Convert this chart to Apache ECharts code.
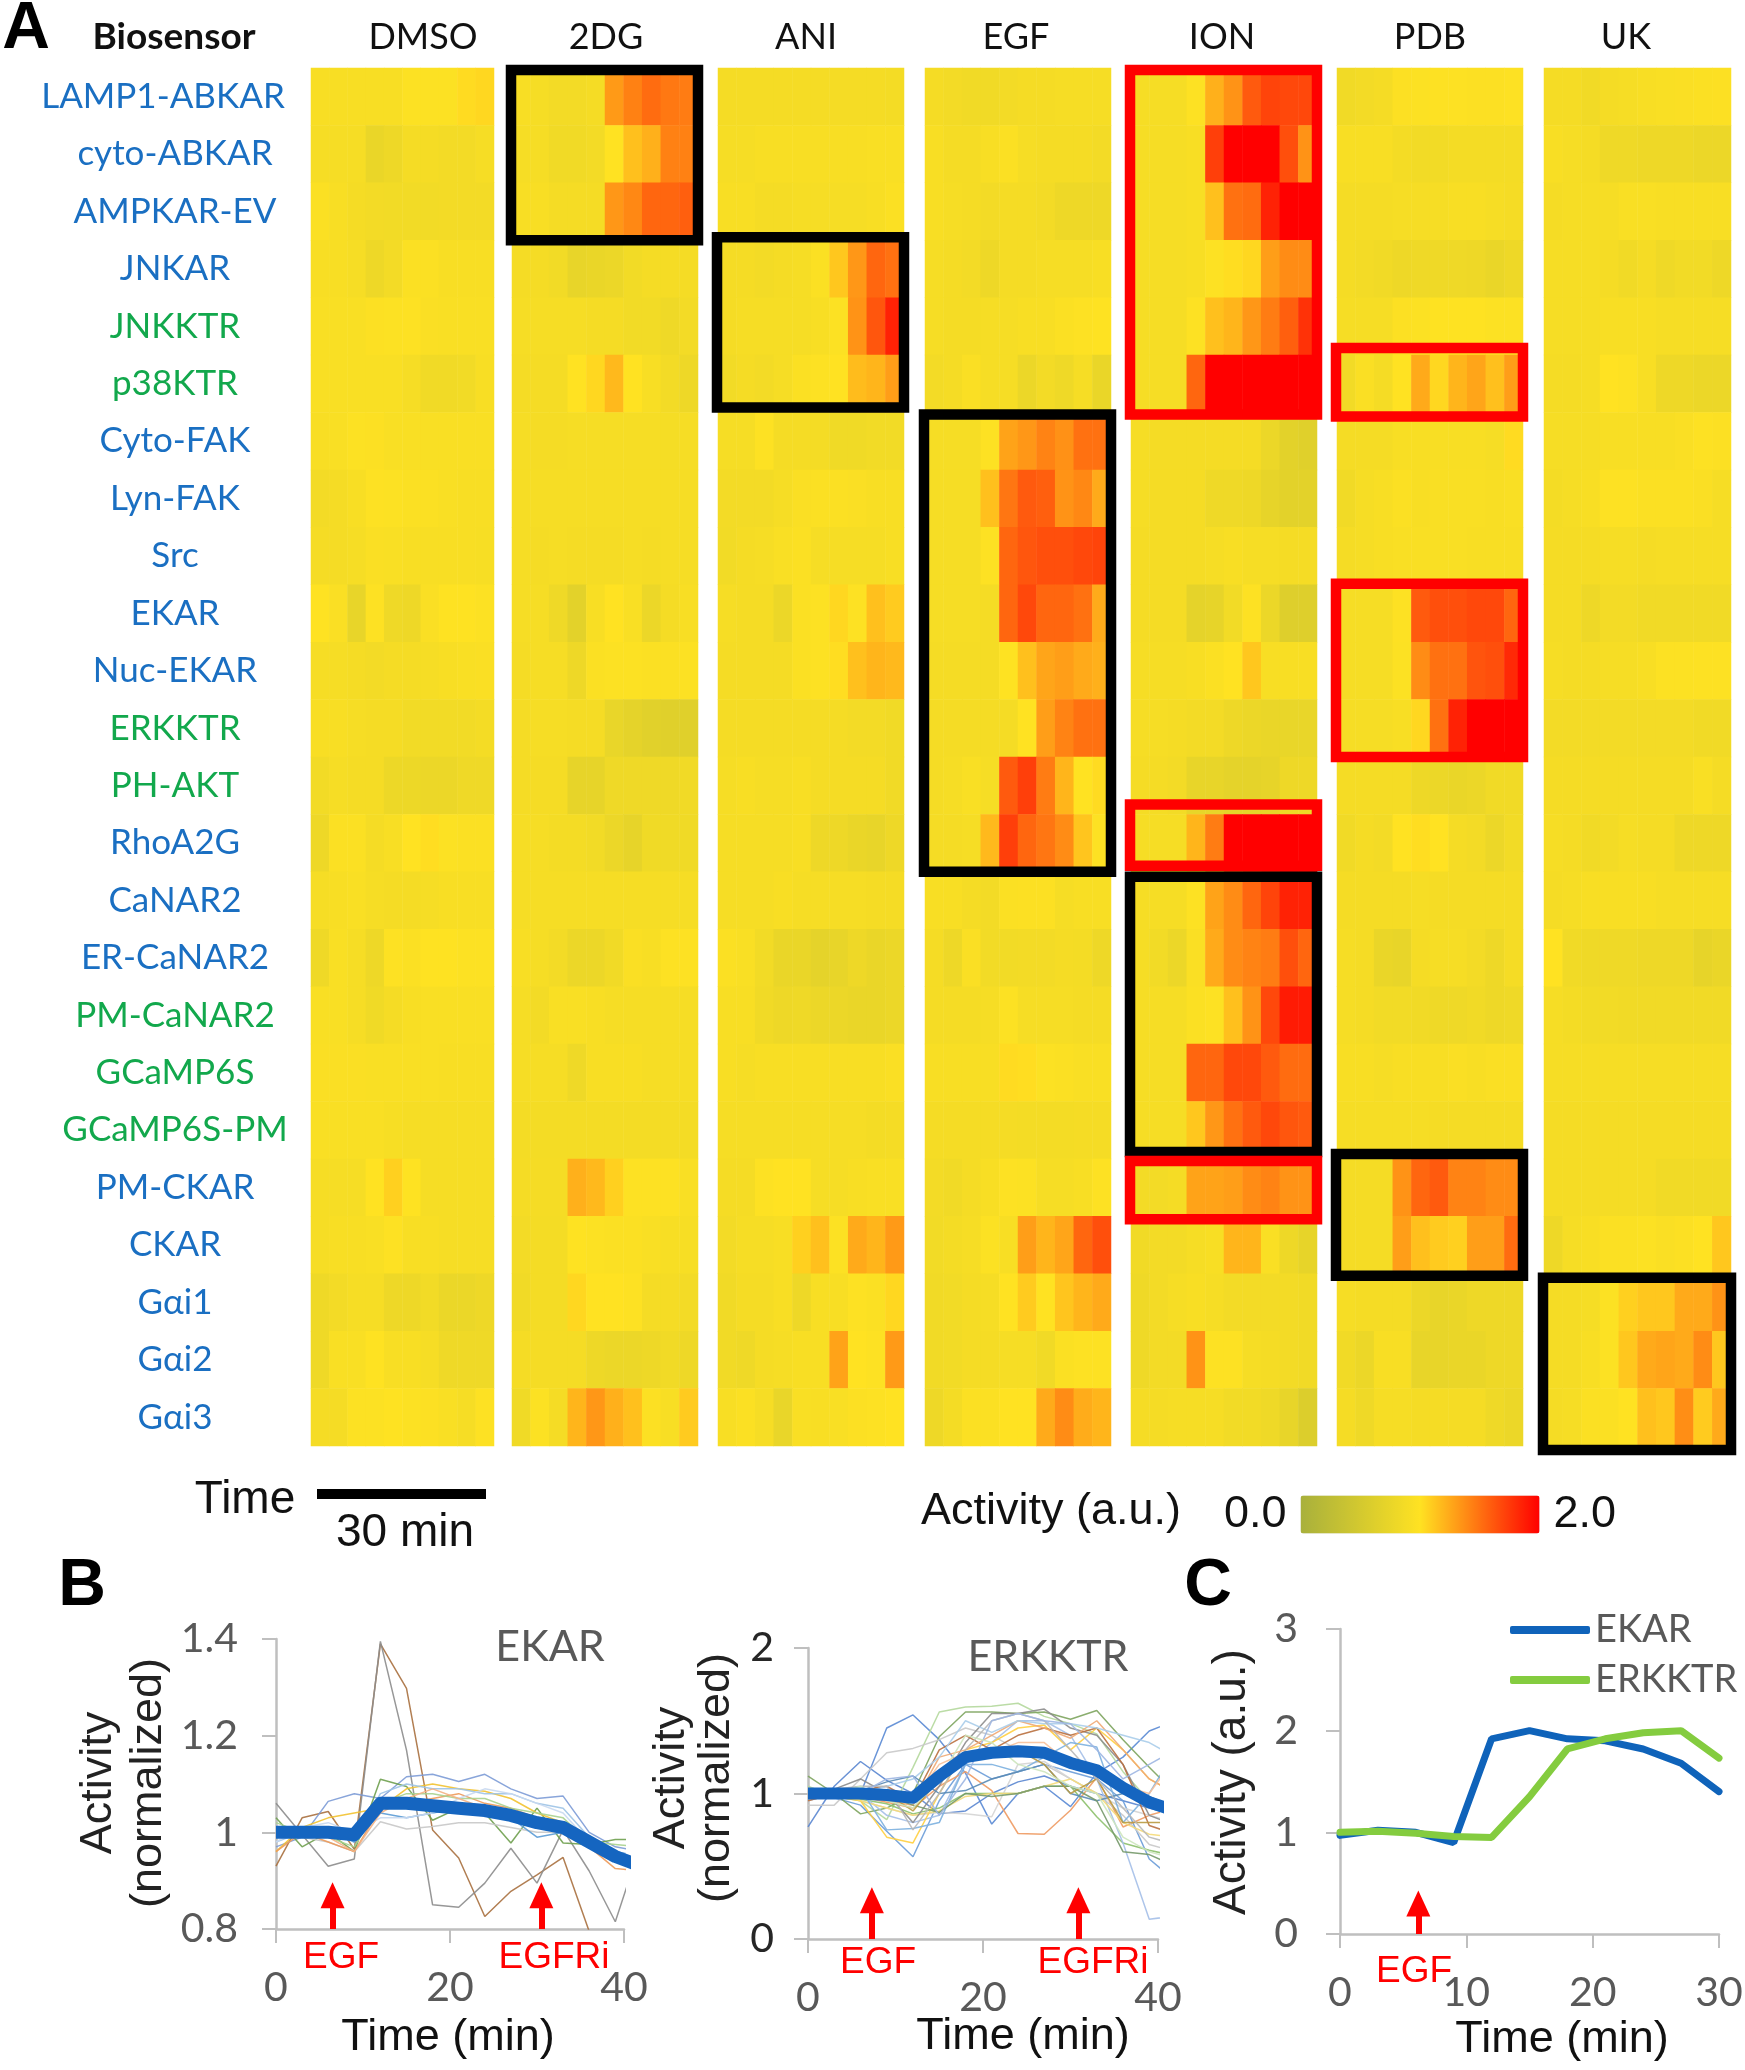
<!DOCTYPE html>
<html>
<head>
<meta charset="utf-8">
<title>Biosensor activity</title>
<script src="https://cdn.jsdelivr.net/npm/echarts@6/dist/echarts.min.js"></script>
<style>
  html, body { margin: 0; padding: 0; background: #fff; }
  #main { width: 1745px; height: 2070px; }
</style>
</head>
<body>
<div id="main"></div>
<script>
const biosensors = ['LAMP1-ABKAR', 'cyto-ABKAR', 'AMPKAR-EV', 'JNKAR', 'JNKKTR', 'p38KTR', 'Cyto-FAK', 'Lyn-FAK', 'Src', 'EKAR', 'Nuc-EKAR', 'ERKKTR', 'PH-AKT', 'RhoA2G', 'CaNAR2', 'ER-CaNAR2', 'PM-CaNAR2', 'GCaMP6S', 'GCaMP6S-PM', 'PM-CKAR', 'CKAR', 'Gαi1', 'Gαi2', 'Gαi3']
const greenSensors = ['JNKKTR', 'p38KTR', 'ERKKTR', 'PH-AKT', 'PM-CaNAR2', 'GCaMP6S', 'GCaMP6S-PM']
const timeBins = ['0', '1', '2', '3', '4', '5', '6', '7', '8', '9']
const treatments = ['DMSO', '2DG', 'ANI', 'EGF', 'ION', 'PDB', 'UK']

const dmso = [
  [.92, .92, .92, .92, .92, .97, .97, .97, 1.03, 1.05],
  [.9, .9, .9, .76, .8, .88, .88, .86, .86, .9],
  [.95, .92, .88, .86, .85, .85, .85, .86, .86, .86],
  [.92, .92, .9, .8, .86, .95, .95, .92, .92, .92],
  [.93, .93, .93, .96, .97, .98, .94, .93, .93, .93],
  [.93, .93, .93, .93, .93, .9, .84, .84, .85, .92],
  [.92, .93, .97, .96, .93, .93, .93, .93, .93, .93],
  [.86, .88, .92, .98, .97, .95, .95, .93, .92, .92],
  [.88, .88, .9, .94, .93, .92, .92, .92, .92, .91],
  [.99, .94, .74, .98, .82, .8, .94, .99, .99, .97],
  [.9, .9, .88, .86, .88, .88, .9, .92, .93, .94],
  [.92, .92, .9, .88, .88, .85, .85, .85, .85, .87],
  [.85, .9, .88, .88, .79, .79, .78, .78, .82, .82],
  [.8, .95, .95, .88, .92, 1.0, 1.02, .97, .95, .95],
  [.9, .92, .93, .9, .88, .88, .9, .92, .92, .92],
  [.82, .93, .9, .8, .98, .95, .99, .99, .97, .97],
  [.93, .93, .9, .83, .88, .92, .93, .93, .93, .93],
  [.94, .94, .94, .93, .93, .93, .93, .92, .92, .92],
  [.93, .93, .93, .93, .91, .9, .9, .9, .9, .9],
  [.9, .9, .9, 1.0, 1.08, .99, .9, .9, .9, .9],
  [.9, .92, .92, .93, .98, .92, .92, .9, .9, .9],
  [.82, .86, .9, .9, .8, .8, .85, .77, .77, .8],
  [.82, .93, .93, .99, .92, .92, .9, .82, .82, .82],
  [.88, .88, .97, .97, .99, .97, .96, .93, .9, .98]
]
const twoDg = [
  [.92, .9, .86, .86, .88, 1.32, 1.43, 1.52, 1.47, 1.45],
  [.9, .9, .84, .84, .86, 1.0, 1.15, 1.22, 1.43, 1.43],
  [.92, .92, .88, .88, .88, 1.33, 1.4, 1.55, 1.55, 1.58],
  [.88, .88, .85, .74, .76, .78, .85, .88, .88, .88],
  [.9, .9, .9, .9, .88, .88, .85, .85, .82, .86],
  [.88, .88, .88, 1.0, 1.05, 1.18, 1.0, .92, .86, .8],
  [.9, .88, .88, .9, .9, .9, .9, .9, .89, .9],
  [.9, .9, .9, .9, .9, .9, .9, .9, .9, .9],
  [.9, .88, .9, .88, .88, .88, .9, .88, .9, .9],
  [.9, .9, .82, .68, .92, 1.0, .93, .78, .88, .92],
  [.88, .9, .9, .8, .95, .97, .97, .95, .95, .97],
  [.88, .9, .9, .88, .88, .75, .7, .66, .64, .64],
  [.88, .88, .88, .72, .72, .82, .82, .82, .82, .84],
  [.9, .9, .87, .87, .85, .78, .72, .83, .83, .83],
  [.9, .9, .9, .9, .9, .9, .9, .9, .9, .9],
  [.92, .9, .86, .78, .78, .84, .94, .92, .98, .98],
  [.9, .86, .93, .93, .92, .9, .9, .9, .9, .9],
  [.9, .9, .9, .82, .92, .92, .92, .9, .9, .9],
  [.87, .87, .87, .87, .87, .87, .87, .87, .87, .87],
  [.88, .88, .88, 1.22, 1.18, 1.08, .98, .98, .98, .93],
  [.86, .87, .87, .99, .97, .95, .95, .93, .91, .91],
  [.84, .87, .87, 1.05, 1.0, 1.0, .98, .88, .88, .86],
  [.88, .88, .88, .88, .8, .78, .78, .8, .84, .8],
  [.83, .97, .88, 1.2, 1.33, 1.22, 1.15, .96, .92, 1.1]
]
const ani = [
  [.88, .88, .88, .88, .88, .88, .88, .88, .88, .87],
  [.9, .9, .92, .92, .92, .92, .92, .92, .93, .93],
  [.92, .92, .88, .88, .9, .9, .9, .9, .92, .95],
  [.88, .88, .86, .88, .9, .95, 1.12, 1.33, 1.55, 1.5],
  [.88, .9, .9, .9, .9, .92, .97, 1.35, 1.62, 1.85],
  [.85, .88, .86, .9, .95, .98, 1.0, 1.17, 1.2, 1.3],
  [.9, .9, .98, .88, .88, .87, .83, .83, .85, .85],
  [.86, .86, .86, .9, .94, .95, .95, .94, .92, .92],
  [.85, .88, .9, .93, .95, .9, .9, .9, .9, .92],
  [.9, .88, .88, .78, .95, .98, 1.05, .98, 1.15, 1.1],
  [.88, .88, .88, .88, .95, .98, 1.02, 1.15, 1.2, 1.18],
  [.88, .88, .88, .88, .88, .88, .88, .86, .86, .84],
  [.9, .92, .9, .9, .92, .88, .88, .88, .88, .84],
  [.9, .9, .9, .9, .92, .8, .8, .76, .74, .8],
  [.9, .9, .9, .92, .9, .9, .9, .9, .88, .88],
  [.95, .93, .85, .76, .76, .7, .74, .8, .76, .78],
  [.92, .92, .84, .8, .82, .78, .78, .76, .76, .78],
  [.92, .9, .92, .92, .92, .92, .92, .92, .92, .94],
  [.9, .9, .9, .9, .9, .9, .9, .9, .87, .88],
  [.88, .88, .98, 1.0, 1.0, .9, .9, .92, .93, .93],
  [.86, .9, .9, .92, 1.08, 1.15, .97, 1.25, 1.2, 1.32],
  [.84, .88, .88, .92, .8, .92, .92, .98, .95, 1.05],
  [.84, .82, .88, .9, .92, .92, 1.28, 1.0, .98, 1.32],
  [.92, .95, .9, .75, .93, .92, .93, .96, .98, 1.0]
]
const egf = [
  [.88, .86, .84, .84, .86, .88, .88, .9, .9, .9],
  [.92, .88, .88, .92, .95, .9, .88, .88, .88, .86],
  [.92, .9, .88, .86, .88, .88, .86, .8, .8, .8],
  [.9, .88, .86, .8, .88, .88, .9, .9, .9, .92],
  [.9, .88, .88, .9, .9, .92, .92, .95, .98, .99],
  [.86, .88, .94, .9, .9, .78, .86, .82, .9, .76],
  [.9, .9, .9, .98, 1.28, 1.33, 1.42, 1.36, 1.5, 1.5],
  [.9, .9, .9, 1.15, 1.48, 1.6, 1.58, 1.35, 1.4, 1.25],
  [.9, .9, .9, .98, 1.55, 1.62, 1.65, 1.65, 1.68, 1.7],
  [.9, .9, .9, .88, 1.55, 1.68, 1.55, 1.55, 1.5, 1.25],
  [.88, .88, .88, .88, .99, 1.15, 1.27, 1.3, 1.25, 1.22],
  [.88, .88, .88, .88, .88, 1.0, 1.3, 1.42, 1.5, 1.5],
  [.88, .9, .93, .9, 1.6, 1.72, 1.45, 1.2, 1.0, 1.03],
  [.88, .88, .9, 1.18, 1.72, 1.55, 1.48, 1.38, 1.13, .98],
  [.92, .92, .88, .86, .95, .96, .96, .9, .92, .92],
  [.88, .8, .94, .85, .85, .86, .86, .88, .87, .8],
  [.88, .88, .88, .9, .97, .9, .9, .9, .88, .88],
  [.92, .92, .92, .92, 1.03, 1.02, .97, .95, .93, .93],
  [.88, .88, .88, .88, .88, .87, .87, .87, .88, .88],
  [.86, .84, .88, .92, .98, .97, .9, .9, .92, .98],
  [.85, .87, .9, .97, .92, 1.3, 1.2, 1.27, 1.55, 1.65],
  [.84, .85, .88, .9, 1.0, 1.1, 1.0, 1.13, 1.2, 1.25],
  [.84, .85, .88, .88, .9, .9, .84, .95, .98, .98],
  [.8, .87, .95, .95, 1.0, 1.0, 1.25, 1.38, 1.24, 1.2]
]
const ion = [
  [.9, .9, .9, .98, 1.22, 1.35, 1.6, 1.7, 1.68, 1.68],
  [.9, .9, .9, .92, 1.72, 2, 2, 2, 1.65, 1.35],
  [.9, .9, .9, .92, 1.15, 1.5, 1.52, 1.85, 2, 2],
  [.9, .9, .9, .92, .98, 1.02, 1.05, 1.3, 1.38, 1.38],
  [.9, .9, .9, .98, 1.15, 1.2, 1.33, 1.45, 1.58, 1.78],
  [.9, .9, .9, 1.55, 2, 2, 2, 2, 2, 2],
  [.9, .88, .88, .88, .88, .88, .88, .78, .68, .64],
  [.9, .88, .88, .88, .82, .82, .8, .72, .68, .68],
  [.88, .88, .88, .88, .9, .92, .9, .9, .88, .88],
  [.88, .88, .88, .7, .72, .85, .98, .78, .62, .62],
  [.9, .9, .9, .92, .95, 1.0, 1.12, .92, .92, .92],
  [.9, .9, .88, .86, .86, .8, .78, .76, .75, .75],
  [.88, .88, .86, .74, .74, .7, .7, .72, .8, .8],
  [.9, .9, .9, 1.2, 1.45, 2, 2, 2, 2, 2],
  [.9, .9, .9, .98, 1.28, 1.38, 1.55, 1.7, 1.85, 1.85],
  [.9, .85, .78, .94, 1.25, 1.38, 1.42, 1.45, 1.65, 1.55],
  [.9, .9, .9, .95, .98, 1.15, 1.35, 1.68, 1.88, 1.88],
  [.9, .9, .9, 1.55, 1.55, 1.68, 1.68, 1.6, 1.52, 1.52],
  [.9, .9, .9, 1.12, 1.33, 1.5, 1.6, 1.68, 1.62, 1.6],
  [.86, .86, .88, 1.28, 1.28, 1.3, 1.38, 1.42, 1.35, 1.35],
  [.84, .86, .86, .9, .92, 1.2, 1.2, .94, .8, .72],
  [.82, .86, .9, .92, .9, .86, .86, .86, .86, .84],
  [.82, .86, .86, 1.35, .98, .98, .9, .88, .86, .84],
  [.88, .88, .9, .9, .9, .85, .85, .82, .74, .6]
]
const pdb = [
  [.84, .86, .88, .96, .97, .98, .98, .96, .96, .98],
  [.92, .92, .92, .87, .85, .85, .87, .87, .87, .87],
  [.88, .88, .88, .9, .9, .9, .92, .92, .9, .88],
  [.88, .86, .84, .8, .82, .82, .82, .8, .76, .8],
  [.9, .9, .9, .96, .97, .99, .99, .99, .97, .97],
  [.85, .94, .88, 1.0, 1.25, 1.05, 1.2, 1.27, 1.15, 1.3],
  [.88, .88, .88, .92, .92, .92, .92, .92, .9, 1.03],
  [.84, .9, .92, .95, .92, .93, .93, .93, .92, .93],
  [.88, .9, .92, .93, .93, .93, .93, .92, .92, .92],
  [.9, .9, .9, .98, 1.6, 1.65, 1.65, 1.68, 1.68, 1.55],
  [.9, .9, .9, .97, 1.38, 1.5, 1.5, 1.63, 1.65, 1.82],
  [.9, .9, .9, .92, 1.05, 1.5, 1.85, 2, 2, 2],
  [.88, .88, .88, .88, .8, .78, .76, .78, .84, .84],
  [.84, .88, .86, 1.0, 1.02, 1.0, .88, .86, .78, .85],
  [.88, .88, .88, .88, .9, .88, .88, .88, .88, .88],
  [.9, .88, .76, .74, .88, .9, .9, .86, .8, .88],
  [.9, .88, .85, .85, .84, .82, .82, .84, .8, .82],
  [.92, .92, .9, .92, .92, .92, .94, .92, .94, .94],
  [.9, .9, .9, .9, .9, .88, .88, .88, .88, .88],
  [.88, .88, .88, 1.35, 1.55, 1.6, 1.42, 1.42, 1.38, 1.38],
  [.88, .88, .88, 1.3, 1.15, 1.1, 1.08, 1.3, 1.3, 1.52],
  [.9, .88, .88, .88, .78, .74, .76, .8, .8, .8],
  [.84, .78, .92, .92, .74, .74, .76, .76, .8, .8],
  [.88, .82, .9, .9, .88, .88, .88, .88, .82, .78]
]
const uk = [
  [.88, .88, .84, .88, .9, .92, .93, .94, .95, .96],
  [.92, .9, .88, .82, .82, .8, .8, .8, .78, .78],
  [.88, .9, .9, .9, .93, .93, .92, .92, .92, .92],
  [.9, .9, .9, .88, .84, .88, .82, .85, .85, .8],
  [.9, .9, .9, .92, .92, .92, .9, .9, .9, .9],
  [.88, .88, .9, 1.0, .98, .92, .8, .8, .78, .78],
  [.9, .9, .9, .92, .92, .92, .92, .94, .98, .96],
  [.87, .9, .92, .98, .98, .95, .95, .95, .94, .9],
  [.88, .88, .88, .9, .9, .88, .9, .9, .9, .9],
  [.88, .88, .8, .86, .86, .84, .84, .84, .84, .84],
  [.9, .88, .88, .9, .9, .92, .97, .97, .98, .98],
  [.86, .86, .86, .86, .86, .86, .86, .86, .84, .84],
  [.88, .88, .88, .88, .88, .88, .88, .88, .93, .88],
  [.9, .88, .84, .86, .9, .88, .88, .8, .8, .8],
  [.88, .9, .92, .92, .92, .92, .9, .9, .9, .9],
  [1.0, .84, .82, .82, .82, .8, .8, .8, .72, .76],
  [.9, .87, .85, .85, .84, .84, .84, .84, .84, .84],
  [.9, .9, .9, .9, .9, .9, .9, .9, .9, .9],
  [.88, .88, .88, .88, .88, .88, .88, .88, .88, .88],
  [.88, .88, .88, .88, .88, .88, .84, .84, .84, .84],
  [.8, .9, .92, .95, .95, .97, .94, .96, 1.0, 1.12],
  [.88, .88, .9, .97, 1.08, 1.12, 1.12, 1.25, 1.25, 1.35],
  [.88, .88, .92, .97, 1.12, 1.25, 1.27, 1.25, 1.38, 1.12],
  [.88, .9, .95, .95, 1.0, 1.15, 1.12, 1.37, 1.1, 1.25]
]
const heatValues = [dmso, twoDg, ani, egf, ion, pdb, uk]

// treatment index, first row, last row, colour group
const hitBoxes = [
  [1, 0, 2, 'black'],
  [2, 3, 5, 'black'],
  [4, 0, 5, 'red'],
  [5, 5, 5, 'red'],
  [3, 6, 13, 'black'],
  [4, 13, 13, 'red'],
  [4, 14, 18, 'black'],
  [4, 19, 19, 'red'],
  [5, 9, 11, 'red'],
  [5, 19, 20, 'black'],
  [6, 21, 23, 'black']
]

const traceTimes = [0, 3, 6, 9, 12, 15, 18, 21, 24, 27, 30, 33, 36, 39, 42]
const ekarMean = [1.0, 1.0, 1.0, .995, 1.06, 1.06, 1.055, 1.05, 1.045, 1.035, 1.02, 1.01, .98, .95, .93]
const ekarTraces = [
  [.93, 1.03, 1.043, .965, 1.39, 1.298, 1.005, .947, .826, .878, .912, .948, .795, .7, .65],
  [1.06, .995, .93, .945, 1.395, 1.17, .85, .845, .895, .967, .895, 1.005, .92, .815, .98],
  [.97, .99, 1.064, 1.08, 1.07, 1.115, 1.12, 1.105, 1.12, 1.09, 1.07, 1.075, 1.0, .97, .96],
  [1.03, .97, 1.0, .96, 1.11, 1.095, 1.025, 1.05, 1.04, .978, 1.05, .978, .975, .985, .985],
  [1.0, .99, .98, .96, 1.022, 1.007, 1.012, 1.02, 1.02, 1.01, 1.0, 1.0, .97, .95, .94],
  [.96, 1.01, 1.03, 1.04, 1.05, 1.09, 1.1, 1.09, 1.085, 1.07, 1.04, 1.02, .98, .95, .94],
  [.96, 1.0, .98, .96, 1.05, 1.06, 1.07, 1.08, 1.06, 1.05, 1.03, 1.01, .97, .925, .92],
  [.98, 1.0, 1.0, .98, 1.08, 1.1, 1.09, 1.09, 1.08, 1.08, 1.06, 1.05, .99, .96, .95],
  [1.02, 1.0, .99, .97, 1.06, 1.08, 1.08, 1.07, 1.07, 1.05, 1.04, 1.03, .98, .975, .97],
  [.99, 1.0, 1.01, .98, 1.04, 1.03, 1.04, 1.05, 1.04, 1.03, .99, 1.0, .98, .96, .95],
  [.98, 1.01, 1.02, 1.0, 1.03, 1.03, 1.04, 1.07, 1.09, 1.08, 1.06, 1.04, .98, .96, .95],
  [1.0, 1.0, .99, .96, 1.04, 1.07, 1.09, 1.07, 1.05, 1.04, 1.03, 1.02, .97, .94, .93]
]
const ekarColors = ['#a8703f', '#8c8c8c', '#7c9bd6', '#6fa04f', '#c8c8c8', '#f2c230', '#ed9a5a', '#9dc3e6', '#a9d18e', '#5b9bd5', '#c8d8ef', '#f4b183']

const erkMean = [1.0, 1.0, 1.0, .99, .97, 1.12, 1.25, 1.28, 1.29, 1.28, 1.21, 1.16, 1.04, .94, .88]
const erkTraces = [
  [.77, 1.05, 1.22, 1.09, 1.0, .86, .88, 1.0, 1.08, 1.12, 1.05, 1.0, .95, .9, .85],
  [1.0, .98, 1.0, 1.45, 1.54, 1.37, 1.14, .79, 1.0, 1.05, .91, 1.14, 1.25, 1.43, 1.5],
  [1.0, .97, .92, .74, .565, .95, 1.2, 1.1, 1.15, 1.2, 1.15, 1.1, .95, .55, .4],
  [.98, 1.0, .98, .94, .9, 1.05, 1.15, 1.02, .725, .72, .885, 1.11, .77, .85, .9],
  [1.05, .98, .95, .82, 1.18, 1.56, 1.595, 1.6, 1.62, 1.53, 1.48, 1.41, 1.15, .95, .85],
  [1.12, 1.0, .86, .9, 1.0, 1.39, 1.56, 1.56, 1.55, 1.56, 1.51, 1.57, 1.37, 1.18, 1.0],
  [1.0, 1.0, .96, .93, .86, .9, 1.0, 1.0, 1.0, 1.05, 1.05, .84, .66, .61, .57],
  [.95, 1.0, 1.0, .85, .8, .85, 1.2, 1.35, 1.5, 1.5, 1.4, 1.1, .66, .135, .16],
  [.92, .92, 1.1, 1.28, 1.31, 1.37, 1.45, 1.4, 1.3, 1.2, 1.1, 1.0, .85, .65, .6],
  [.95, 1.0, .95, .9, .85, .87, .86, .84, 1.2, 1.22, 1.1, 1.0, .9, .85, .8],
  [1.0, .98, .95, .7, .66, 1.0, 1.3, 1.35, 1.45, 1.47, 1.3, 1.45, 1.3, 1.1, 1.0],
  [.97, 1.0, .95, .9, .85, .88, .98, 1.0, 1.0, 1.05, 1.1, 1.0, .8, .72, .7],
  [1.0, 1.03, 1.1, 1.0, .8, 1.05, 1.35, 1.55, 1.55, 1.58, 1.45, 1.4, 1.2, .85, .78],
  [.95, 1.0, 1.02, 1.05, .95, 1.3, 1.4, 1.3, 1.4, 1.45, 1.4, 1.45, 1.2, .78, .72],
  [1.0, 1.0, .98, .95, .92, 1.25, 1.3, 1.4, 1.5, 1.45, 1.38, 1.5, 1.3, 1.1, 1.0],
  [1.0, 1.02, 1.03, .75, .76, .8, 1.2, 1.2, 1.15, 1.25, 1.35, 1.32, .8, 1.0, 1.3],
  [1.02, 1.0, 1.0, 1.05, 1.1, 1.25, 1.5, 1.42, 1.5, 1.48, 1.48, 1.45, 1.4, 1.35, 1.25],
  [.98, 1.0, 1.02, 1.08, 1.12, 1.0, 1.02, 1.1, 1.15, 1.2, 1.0, .95, 1.0, .98, .9],
  [1.02, 1.0, 1.0, .98, .92, .87, 1.0, .98, 1.0, 1.05, 1.05, .95, .6, .58, .5],
  [.98, .98, 1.0, 1.0, .88, 1.1, 1.25, 1.3, 1.3, 1.2, 1.0, 1.1, .8, .8, .8],
  [1.0, 1.03, 1.05, 1.05, .75, 1.0, 1.3, 1.5, 1.55, 1.5, 1.3, 1.1, .9, .7, .65],
  [1.0, .98, 1.0, .95, .95, 1.2, 1.28, 1.28, 1.35, 1.35, 1.2, 1.15, 1.05, 1.0, 1.25],
  [1.0, 1.0, 1.0, 1.1, 1.12, .85, 1.1, 1.5, 1.55, 1.5, 1.48, 1.3, 1.1, 1.2, 1.3],
  [1.02, 1.0, 1.05, .95, .9, 1.1, 1.4, 1.35, 1.2, 1.15, 1.05, 1.0, .7, .6, .55]
]
const erkColors = ['#5a86d0', '#5a8ad4', '#6a9cd8', '#ee9a62', '#b4d89c', '#7da45e', '#8cc06a', '#a4bfe8', '#c9c9c9', '#d4d4d4', '#ffcf40', '#f5da78', '#8c8c8c', '#b9703f', '#f0a874', '#7cb0df', '#aacdea', '#5a8bb5', '#76996a', '#b99a40', '#b8b8b8', '#f7c09a', '#9db6e2', '#cde5bd']

const summaryTimes = [0, 3, 6, 9, 12, 15, 18, 21, 24, 27, 30]
const summaryEkar = [.97, 1.02, 1.0, .9, 1.92, 2.0, 1.92, 1.9, 1.82, 1.68, 1.4]
const summaryErk = [1.0, 1.01, .99, .96, .95, 1.35, 1.82, 1.92, 1.98, 2.0, 1.73]

const arial = '"Liberation Sans", Arial, sans-serif'
const calibri = 'Lato, "Noto Sans", sans-serif'
const axisGray = '#bfbfbf'
const tickGray = '#595959'

// pixel edges of the heatmap columns
const heatLeft = [311, 512, 718, 925, 1131, 1337, 1544]
const heatRight = [494, 698, 904, 1111, 1317, 1523, 1731]
const heatTop = 68
const heatBottom = 1446
// nudge of each box's top and bottom edge in px, same order as hitBoxes
const boxNudge = [[2, 0], [-3, -5], [2, 2], [-7, 4], [2, 0], [-10, -6], [5, -7], [2, 3], [-1, 0], [-5, 2], [4, 4]]

const grids = []
const xAxes = []
const yAxes = []
const series = []

treatments.forEach((name, t) => {
  grids.push({ left: heatLeft[t], top: heatTop, width: heatRight[t] - heatLeft[t], height: heatBottom - heatTop, outerBoundsMode: 'none' })
  xAxes.push({ type: 'category', gridIndex: t, data: timeBins, show: false })
  yAxes.push({
    type: 'category',
    gridIndex: t,
    inverse: true,
    data: biosensors.map(b => ({
      value: b,
      textStyle: {
        color: greenSensors.includes(b) ? '#12a84c' : '#1a6fc2',
        align: 'center',
        // this one label sits left of the others in the figure
        padding: b === 'LAMP1-ABKAR' ? [0, 24, 0, 0] : 0
      }
    })),
    axisLine: { show: false },
    axisTick: { show: false },
    axisLabel: {
      show: t === 0,
      interval: 0,
      margin: 136,
      fontFamily: calibri,
      fontSize: 35
    }
  })
  const cells = []
  heatValues[t].forEach((row, r) => {
    row.forEach((v, c) => cells.push([c, r, v]))
  })
  series.push({
    type: 'heatmap',
    name,
    xAxisIndex: t,
    yAxisIndex: t,
    data: cells,
    silent: true,
    progressive: 0,
    animation: false
  })
})

treatments.forEach((name, t) => {
  const rows = []
  hitBoxes.forEach((b, i) => {
    if (b[0] === t) rows.push([b[1], b[2], b[3] === 'red' ? 1 : 0, boxNudge[i][0], boxNudge[i][1]])
  })
  series.push({
    type: 'custom',
    xAxisIndex: t,
    yAxisIndex: t,
    data: rows,
    silent: true,
    z: 5,
    animation: false,
    clip: false,
    encode: { x: 2, y: 0 },
    renderItem(params, api) {
      const band = api.size([0, 1])[1]
      const top = api.coord([0, api.value(0)])[1] - band / 2 + api.value(3)
      const bottom = api.coord([0, api.value(1)])[1] + band / 2 + api.value(4)
      return {
        type: 'rect',
        shape: { x: params.coordSys.x - 1, y: top, width: params.coordSys.width + 1, height: bottom - top },
        style: { fill: 'none', stroke: api.value(2) ? '#ff0000' : '#000000', lineWidth: 10.5, lineJoin: 'miter' }
      }
    }
  })
})

function addLinePanel(box, xMax, xStep, yMin, yMax, yStep, yLabelColor, yMargin) {
  const g = grids.length
  grids.push(Object.assign({ outerBoundsMode: 'none' }, box))
  xAxes.push({
    type: 'value',
    gridIndex: g,
    min: 0,
    max: xMax,
    interval: xStep,
    splitLine: { show: false },
    axisLine: { onZero: false, lineStyle: { color: axisGray, width: 2.5 } },
    axisTick: { length: 14, lineStyle: { color: axisGray, width: 2 } },
    axisLabel: { margin: 38, fontFamily: calibri, fontSize: 41, color: tickGray, showMinLabel: true, showMaxLabel: true }
  })
  yAxes.push({
    type: 'value',
    gridIndex: g,
    min: yMin,
    max: yMax,
    interval: yStep,
    splitLine: { show: false },
    axisLine: { show: true, onZero: false, lineStyle: { color: axisGray, width: 2.5 } },
    axisTick: { show: true, length: 14, lineStyle: { color: axisGray, width: 2 } },
    axisLabel: { margin: yMargin, fontFamily: calibri, fontSize: 41, color: yLabelColor }
  })
  return g
}

function pairs(times, values) {
  return times.map((t, i) => [t, values[i]])
}

function addTraces(g, traces, colors) {
  traces.forEach((vals, i) => {
    series.push({
      type: 'line',
      xAxisIndex: g,
      yAxisIndex: g,
      data: pairs(traceTimes, vals),
      symbol: 'none',
      silent: true,
      animation: false,
      lineStyle: { color: colors[i], width: 1.5, opacity: 0.9 }
    })
  })
}

function arrowLines(xs, yBase, yTip) {
  return {
    silent: true,
    animation: false,
    symbol: 'none',
    label: { show: false },
    lineStyle: { color: '#ff0000', width: 6, type: 'solid' },
    data: xs.map(x => [{ coord: [x, yBase] }, { coord: [x, yTip] }])
  }
}

function arrowHeads(xs, yTip) {
  return {
    silent: true,
    animation: false,
    symbol: 'triangle',
    symbolSize: [24, 26],
    label: { show: false },
    itemStyle: { color: '#ff0000' },
    data: xs.map(x => ({ coord: [x, yTip] }))
  }
}

const ekarGrid = addLinePanel({ left: 276, top: 1639, width: 348, height: 290 }, 40, 20, 0.8, 1.4, 0.2, tickGray, 38)
addTraces(ekarGrid, ekarTraces, ekarColors)
series.push({
  type: 'line',
  xAxisIndex: ekarGrid,
  yAxisIndex: ekarGrid,
  data: pairs(traceTimes, ekarMean),
  symbol: 'none',
  silent: true,
  animation: false,
  z: 4,
  lineStyle: { color: '#1565c0', width: 13, join: 'round' },
  markLine: arrowLines([6.5, 30.5], 0.8, 0.87),
  markPoint: arrowHeads([6.5, 30.5], 0.87)
})

const erkGrid = addLinePanel({ left: 808, top: 1648, width: 350, height: 291 }, 40, 20, 0, 2, 1, '#262626', 34)
addTraces(erkGrid, erkTraces, erkColors)
series.push({
  type: 'line',
  xAxisIndex: erkGrid,
  yAxisIndex: erkGrid,
  data: pairs(traceTimes, erkMean),
  symbol: 'none',
  silent: true,
  animation: false,
  z: 4,
  lineStyle: { color: '#1565c0', width: 12, join: 'round' },
  markLine: arrowLines([7.3, 30.9], 0, 0.266),
  markPoint: arrowHeads([7.3, 30.9], 0.266)
})

const summaryGrid = addLinePanel({ left: 1340, top: 1629, width: 379, height: 305 }, 30, 10, 0, 3, 1, tickGray, 42)
series.push({
  type: 'line',
  name: 'EKAR',
  xAxisIndex: summaryGrid,
  yAxisIndex: summaryGrid,
  data: pairs(summaryTimes, summaryEkar),
  symbol: 'none',
  silent: true,
  animation: false,
  lineStyle: { color: '#0f63ba', width: 7, cap: 'round' },
  markLine: arrowLines([6.2], 0, 0.3),
  markPoint: arrowHeads([6.2], 0.3)
})
series.push({
  type: 'line',
  name: 'ERKKTR',
  xAxisIndex: summaryGrid,
  yAxisIndex: summaryGrid,
  data: pairs(summaryTimes, summaryErk),
  symbol: 'none',
  silent: true,
  animation: false,
  lineStyle: { color: '#84cc3f', width: 7, cap: 'round' }
})

function label(text, x, y, fontSize, fontFamily, fill, rotation, fontWeight) {
  return {
    type: 'text',
    x,
    y,
    rotation: rotation || 0,
    silent: true,
    style: { text, fontSize, fontFamily, fontWeight: fontWeight || 'normal', fill, align: 'center', verticalAlign: 'middle' }
  }
}

const upright = Math.PI / 2
const heading = '#111111'
const texts = [
  label('A', 26, 30, 66, arial, '#000', 0, 'bold'),
  label('B', 82, 1587, 66, arial, '#000', 0, 'bold'),
  label('C', 1208, 1587, 66, arial, '#000', 0, 'bold'),
  label('Biosensor', 174, 37, 37, calibri, '#111', 0, 'bold'),
  label('DMSO', 423, 37, 36, calibri, heading),
  label('2DG', 606, 37, 36, calibri, heading),
  label('ANI', 806, 37, 36, calibri, heading),
  label('EGF', 1016, 37, 36, calibri, heading),
  label('ION', 1222, 37, 36, calibri, heading),
  label('PDB', 1430, 37, 36, calibri, heading),
  label('UK', 1626, 37, 36, calibri, heading),
  label('Time', 245, 1500, 46, arial, '#111'),
  label('30 min', 405, 1533, 46, arial, '#111'),
  label('Activity (a.u.)', 1051, 1512, 45, arial, '#111'),
  label('EKAR', 550, 1647, 43, calibri, tickGray),
  label('ERKKTR', 1048, 1657, 43, calibri, tickGray),
  label('EGF', 341, 1958, 37, arial, '#ff0000'),
  label('EGFRi', 554, 1958, 37, arial, '#ff0000'),
  label('EGF', 878, 1963, 37, arial, '#ff0000'),
  label('EGFRi', 1093, 1963, 37, arial, '#ff0000'),
  label('EGF', 1414, 1972, 37, arial, '#ff0000'),
  label('Time (min)', 448, 2038, 45, arial, '#111'),
  label('Time (min)', 1023, 2037, 45, arial, '#111'),
  label('Time (min)', 1562, 2040, 45, arial, '#111'),
  label('Activity', 99, 1783, 45, arial, '#222', upright),
  label('(normalized)', 149, 1783, 45, arial, '#222', upright),
  label('Activity', 672, 1778, 45, arial, '#222', upright),
  label('(normalized)', 717, 1778, 45, arial, '#222', upright),
  label('Activity (a.u.)', 1232, 1782, 46, arial, '#222', upright),
  {
    type: 'rect',
    silent: true,
    shape: { x: 317, y: 1489, width: 169, height: 10 },
    style: { fill: '#000' }
  }
]

const chart = echarts.init(document.getElementById('main'), null, { renderer: 'canvas' })
chart.setOption({
  animation: false,
  backgroundColor: '#fff',
  grid: grids,
  xAxis: xAxes,
  yAxis: yAxes,
  visualMap: {
    type: 'continuous',
    seriesIndex: [0, 1, 2, 3, 4, 5, 6],
    min: 0,
    max: 2,
    orient: 'horizontal',
    left: 1209,
    top: 1477,
    itemWidth: 38,
    itemHeight: 239,
    calculable: false,
    realtime: false,
    hoverLink: false,
    text: ['2.0', '0.0'],
    textGap: 14,
    textStyle: { fontFamily: arial, fontSize: 45, color: '#111' },
    inRange: { color: ['#a8b03c', '#ffe222', '#ff0000'] }
  },
  legend: {
    orient: 'vertical',
    left: 1505,
    top: 1606,
    itemWidth: 80,
    itemHeight: 8,
    itemGap: 12,
    selectedMode: false,
    icon: 'roundRect',
    data: [
      { name: 'EKAR', itemStyle: { color: '#0f63ba' } },
      { name: 'ERKKTR', itemStyle: { color: '#84cc3f' } }
    ],
    textStyle: { fontFamily: calibri, fontSize: 38, color: tickGray }
  },
  graphic: { elements: texts },
  series
})
</script>
</body>
</html>
